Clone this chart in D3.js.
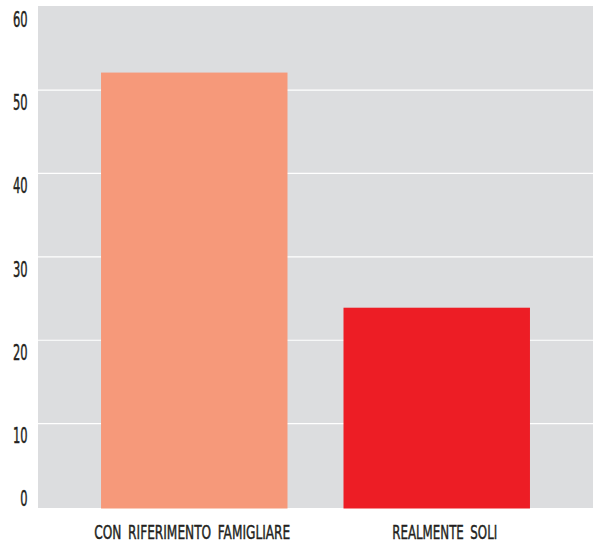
<!DOCTYPE html>
<html>
<head>
<meta charset="utf-8">
<script src="https://cdn.jsdelivr.net/npm/d3@7"></script>
<style>
  html, body { margin: 0; padding: 0; background: #fff; }
  svg { display: block; }
  text { font-family: "DejaVu Sans Condensed", "Liberation Sans Narrow", sans-serif; fill: #231f20; stroke: #231f20; stroke-width: 0.45; }
</style>
</head>
<body>
<svg id="chart" width="593" height="543"></svg>
<script>
// Data
const categories = ["CON RIFERIMENTO FAMIGLIARE", "REALMENTE SOLI"];
const values = [52.1, 23.9];
const barColors = ["#f6997a", "#ed1d25"];
const yTicks = [0, 10, 20, 30, 40, 50, 60];

const svg = d3.select("#chart");
const plot = { left: 38, right: 593, top: 6.7, bottom: 507 };

const x = d3.scaleBand()
  .domain(categories)
  .range([plot.left, plot.right])
  .paddingInner(0.231)
  .paddingOuter(0.26);

const y = d3.scaleLinear()
  .domain([0, 60])
  .range([plot.bottom, plot.top]);

// Plot background
svg.append("rect")
  .attr("x", plot.left)
  .attr("y", 6)
  .attr("width", plot.right - plot.left)
  .attr("height", 508 - 6)
  .attr("fill", "#dcdddf");

// Gridlines
svg.append("g")
  .selectAll("line")
  .data(yTicks.filter(d => d > 0 && d < 60))
  .join("line")
  .attr("x1", plot.left)
  .attr("x2", plot.right)
  .attr("y1", d => y(d))
  .attr("y2", d => y(d))
  .attr("stroke", "#ffffff")
  .attr("stroke-width", 1.2);

// Bars
svg.append("g")
  .selectAll("rect")
  .data(categories)
  .join("rect")
  .attr("x", d => x(d))
  .attr("width", x.bandwidth())
  .attr("y", (d, i) => y(values[i]))
  .attr("height", (d, i) => y(0) - y(values[i]) + 1.5)
  .attr("fill", (d, i) => barColors[i]);

// Y tick labels, condensed, set just below each gridline
svg.append("g")
  .selectAll("text")
  .data(yTicks)
  .join("text")
  .attr("x", 27.5)
  .attr("y", d => Math.min(y(d) + 19.8, 506))
  .attr("text-anchor", "end")
  .attr("font-size", 21)
  .attr("textLength", d => String(d).length * 7.3)
  .attr("lengthAdjust", "spacingAndGlyphs")
  .text(d => d);

// Category labels, condensed
const labelWidths = [196, 105];
const labelShift = [-2, 8];
svg.append("g")
  .selectAll("text")
  .data(categories)
  .join("text")
  .attr("x", (d, i) => x(d) + x.bandwidth() / 2 + labelShift[i])
  .attr("y", 539)
  .attr("text-anchor", "middle")
  .attr("font-size", 19.4)
  .attr("textLength", (d, i) => labelWidths[i])
  .attr("lengthAdjust", "spacingAndGlyphs")
  .attr("word-spacing", 4)
  .text(d => d);
</script>
</body>
</html>
